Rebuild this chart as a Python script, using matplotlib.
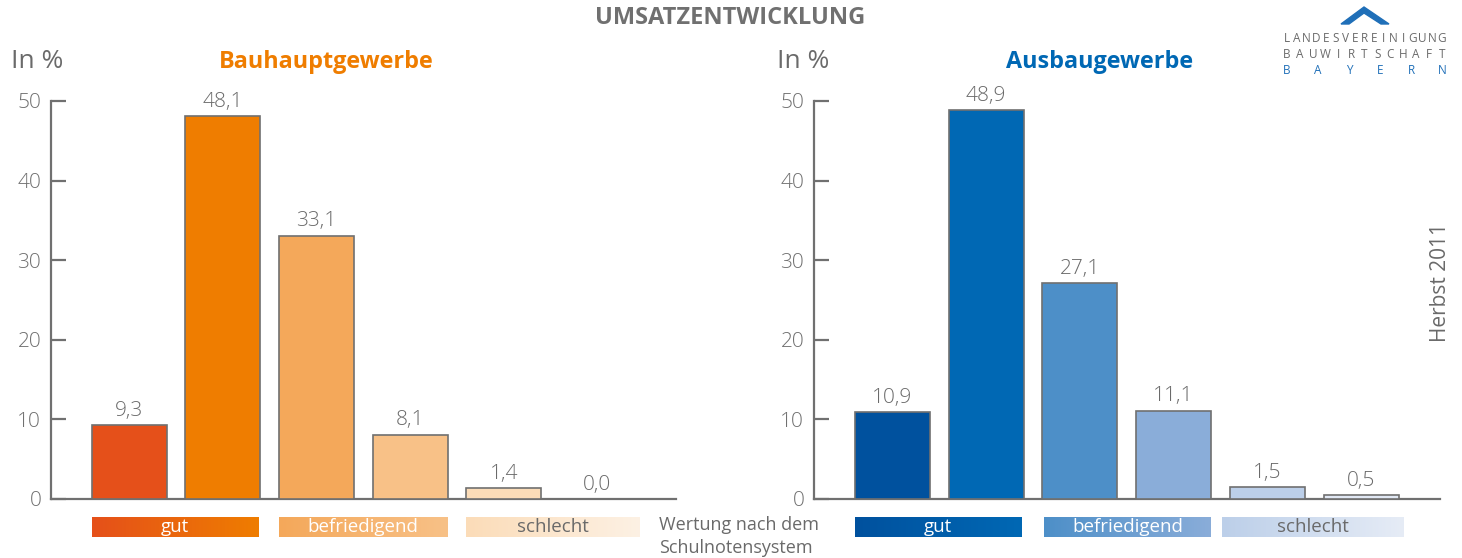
import numpy as np
import matplotlib
matplotlib.use('Agg')
import matplotlib.pyplot as plt
from matplotlib.colors import LinearSegmentedColormap
from matplotlib.patches import Polygon

plt.rcParams['font.family'] = ['Open Sans', 'DejaVu Sans']

# data
grades = [1, 2, 3, 4, 5, 6]
bau = [9.3, 48.1, 33.1, 8.1, 1.4, 0.0]
ausbau = [10.9, 48.9, 27.1, 11.1, 1.5, 0.5]
legend_labels = ['gut', 'befriedigend', 'schlecht']

bau_colors = ['#e5501a', '#ef7d00', '#f4a85a', '#f8c187', '#fbdcb8', '#fdf1e4']
ausbau_colors = ['#00519e', '#0068b4', '#4d8fc8', '#8aadd9', '#bccfe9', '#e2e9f5']
bau_grad = [('#e5501a', '#ef7d00'), ('#f4a85a', '#f8c187'), ('#fbdcb8', '#fdf1e4')]
ausbau_grad = [('#00519e', '#0068b4'), ('#4d8fc8', '#8aadd9'), ('#bccfe9', '#e6ecf6')]
legend_text_col = ['white', 'white', '#6a6a6a']

W, H = 1462, 558
gray = '#707070'
fig = plt.figure(figsize=(W / 100, H / 100), dpi=100)


def px_axes(x0, x1, ytop, ybot):
    return fig.add_axes([x0 / W, (H - ybot) / H, (x1 - x0) / W, (ybot - ytop) / H])


def draw_panel(x0, x1, vals, colors, grads, title, tcol, label_x, title_x, spans):
    ax = px_axes(x0, x1, 101, 499)
    x = np.arange(len(grades))
    ax.bar(x, vals, width=0.8, color=colors, edgecolor=gray, linewidth=1.2, zorder=3)
    for xi, v in zip(x, vals):
        ax.annotate(f'{v:.1f}'.replace('.', ','), (xi, v), xytext=(0, 3),
                    textcoords='offset points', ha='center', va='bottom',
                    fontsize=15, fontweight='light', color='#6a6a6a')
    ax.set_xlim(-0.835, 5.84)
    ax.set_ylim(0, 50)
    ax.set_yticks([0, 10, 20, 30, 40, 50])
    ax.set_xticks([])
    for s in ['top', 'right']:
        ax.spines[s].set_visible(False)
    for s in ['left', 'bottom']:
        ax.spines[s].set_color(gray)
        ax.spines[s].set_linewidth(1.6)
    ax.tick_params(axis='y', direction='in', length=11, width=1.6, color=gray,
                   labelcolor='#707070', labelsize=15, pad=7)
    for lb in ax.get_yticklabels():
        lb.set_fontweight('light')

    # legend strip
    lg = px_axes(x0, x1, 517, 537)
    lg.set_xlim(-0.835, 5.84)
    lg.set_ylim(0, 1)
    lg.axis('off')
    grad = np.linspace(0, 1, 256).reshape(1, -1)
    for (a, b), (c0, c1), lab, tc in zip(spans, grads, legend_labels, legend_text_col):
        cm_ = LinearSegmentedColormap.from_list('g', [c0, c1])
        lg.imshow(grad, extent=(a, b, 0, 1), aspect='auto', cmap=cm_)
        lg.text((a + b) / 2, 0.5, lab, ha='center', va='center', color=tc, fontsize=13.5)
    lg.set_xlim(-0.835, 5.84)
    lg.set_ylim(0, 1)

    fig.text(label_x / W, 1 - 62 / H, 'In %', fontsize=19, color='#6a6a6a', va='center', ha='left')
    fig.text(title_x / W, 1 - 62 / H, title, fontsize=16.8, fontweight='bold',
             color=tcol, ha='center', va='center')
    return ax


draw_panel(51, 676, bau, bau_colors, bau_grad, 'Bauhauptgewerbe', '#ef7d00', 11, 326,
           [(-0.4, 1.38), (1.6, 3.4), (3.6, 5.45)])
draw_panel(814, 1440, ausbau, ausbau_colors, ausbau_grad, 'Ausbaugewerbe', '#0068b4', 777, 1100,
           [(-0.4, 1.38), (1.62, 3.4), (3.52, 5.45)])

fig.text(730 / W, 1 - 18 / H, 'UMSATZENTWICKLUNG', fontsize=17, fontweight='bold',
         color=gray, ha='center', va='center')
fig.text(659 / W, 1 - 525 / H, 'Wertung nach dem', fontsize=13, color='#6a6a6a', va='center')
fig.text(659 / W, 1 - 548 / H, 'Schulnotensystem', fontsize=13, color='#6a6a6a', va='center')
fig.text(1441 / W, 1 - 282 / H, 'Herbst 2011', rotation=90, fontsize=15, color='#6a6a6a',
         ha='center', va='center')

# logo
deco = fig.add_axes([0, 0, 1, 1])
deco.set_xlim(0, W)
deco.set_ylim(H, 0)
deco.axis('off')
deco.add_patch(Polygon([(1341, 24), (1364, 7), (1389, 24), (1381, 24), (1364, 13), (1349, 24)],
                       closed=True, color='#1f6fb8'))
for word, yy, col in [('LANDESVEREINIGUNG', 39, '#6a6a6a'), ('BAUWIRTSCHAFT', 54, '#6a6a6a'),
                      ('BAYERN', 70, '#1f6fb8')]:
    for cx, ch in zip(np.linspace(1287, 1442, len(word)), word):
        deco.text(cx, yy, ch, fontsize=8.5, color=col, ha='center', va='center')

fig.savefig('out.png', dpi=100)
